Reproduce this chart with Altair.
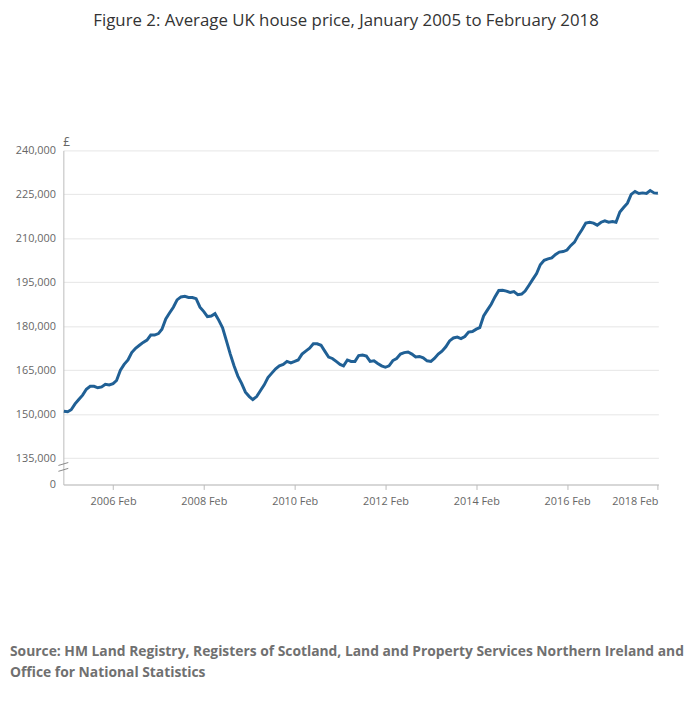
import altair as alt
import pandas as pd

FONT = "Open Sans"

prices = [
    # 2005
    151000, 150800, 151500, 153500, 155000, 156500, 158500, 159500, 159500, 159000, 159300, 160200,
    # 2006
    160000, 160400, 161500, 165000, 167000, 168500, 171000, 172500, 173500, 174500, 175300, 177000,
    # 2007
    177000, 177500, 179000, 182500, 184500, 186500, 189000, 190000, 190200, 189800, 189800, 189400,
    # 2008
    186500, 185000, 183300, 183500, 184300, 182000, 179500, 175000, 170500, 166500, 163000, 160500,
    # 2009
    157500, 156000, 155000, 156000, 158000, 160000, 162500, 164000, 165500, 166500, 167000, 168000,
    # 2010
    167500, 168000, 168500, 170500, 171500, 172500, 174000, 174000, 173500, 171500, 169500, 169000,
    # 2011
    168000, 167000, 166500, 168500, 168000, 168000, 170000, 170200, 169800, 168000, 168200, 167300,
    # 2012
    166500, 166000, 166500, 168300, 169000, 170500, 171000, 171200, 170500, 169500, 169700, 169200,
    # 2013
    168200, 168000, 169000, 170500, 171500, 173000, 175000, 176000, 176300, 175800, 176500, 178000,
    # 2014
    178200, 179000, 179500, 183500, 185500, 187500, 190000, 192200, 192300, 192000, 191500, 191800,
    # 2015
    190800, 191000, 192000, 194000, 196000, 198000, 201000, 202500, 203000, 203300, 204500, 205300,
    # 2016
    205500, 206000, 207500, 208700, 211000, 213000, 215200, 215500, 215200, 214500, 215500, 216000,
    # 2017
    215500, 215700, 215500, 219000, 220500, 222000, 225000, 226000, 225300, 225500, 225300, 226300,
    # 2018
    225500, 225400,
]
months = pd.date_range("2005-01-01", periods=len(prices), freq="MS")
df = pd.DataFrame({"date": months, "price": prices})

y_ticks = [126000, 135000, 150000, 165000, 180000, 195000, 210000, 225000, 240000]
x_ticks = [alt.DateTime(year=y, month=2, date=1) for y in range(2006, 2019, 2)]

line = alt.Chart(df).mark_line(color="#206095", strokeWidth=3).encode(
    alt.X("date:T")
        .scale(domain=[alt.DateTime(year=2004, month=12, date=28), alt.DateTime(year=2018, month=2, date=5)])
        .axis(values=x_ticks, labelExpr="timeFormat(datum.value, '%Y %b')", grid=False,
              domainColor="#bbbbbb", tickColor="#bbbbbb", labelColor="#666666",
              labelFont=FONT, labelFontSize=11, labelPadding=6)
        .title(None),
    alt.Y("price:Q")
        .scale(domain=[126000, 240000], zero=False, nice=False)
        .axis(values=y_ticks,
              labelExpr="datum.value < 130000 ? '0' : format(datum.value, ',')",
              gridColor="#e6e6e6", domainColor="#bbbbbb", ticks=False,
              labelColor="#666666", labelFont=FONT, labelFontSize=11, labelPadding=8)
        .title(None),
)

# axis break marks
brk = pd.DataFrame({"y": [130500, 132500], "y2": [131500, 133500]})
breaks = alt.Chart(brk).mark_rule(color="#888888").encode(
    x=alt.value(-5), x2=alt.value(5), y="y:Q", y2="y2:Q"
)

def label(txt, x, y, size, weight="normal", color="#333333", align="left"):
    return alt.Chart(pd.DataFrame({"t": [txt]})).mark_text(
        font=FONT, fontSize=size, fontWeight=weight, color=color, align=align, baseline="middle"
    ).encode(text="t:N", x=alt.value(x), y=alt.value(y))

chart = alt.layer(
    line,
    breaks,
    label("Figure 2: Average UK house price, January 2005 to February 2018", 286, -131, 17, align="center"),
    label("£", 0, -8, 12, color="#666666"),
    label("Source: HM Land Registry, Registers of Scotland, Land and Property Services Northern Ireland and",
          -54, 507, 14, "bold", "#707070"),
    label("Office for National Statistics", -54, 529, 14, "bold", "#707070"),
).properties(
    width=602, height=338,
    autosize=alt.AutoSizeParams(type="none"),
    padding={"left": 56, "top": 140, "right": 34, "bottom": 219},
).configure_view(stroke=None)

chart.save("out.html", embed_options={"renderer": "svg", "actions": False})
